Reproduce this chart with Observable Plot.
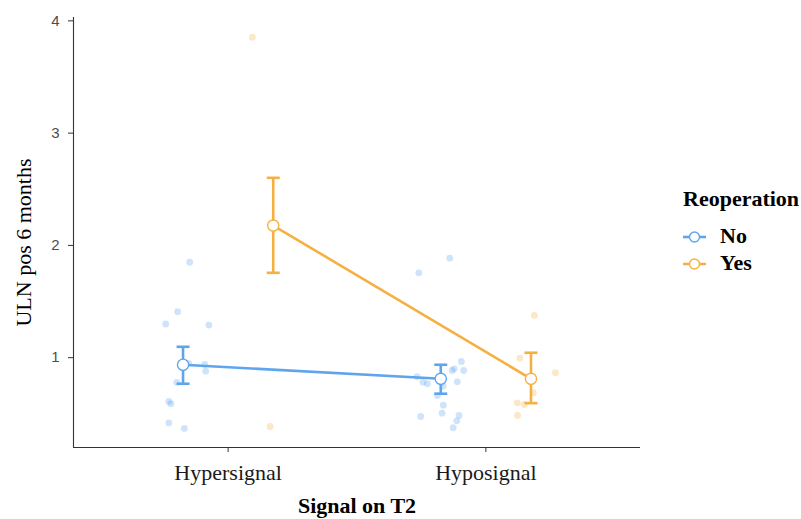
<!DOCTYPE html>
<html>
<head>
<meta charset="utf-8">
<script src="https://cdn.jsdelivr.net/npm/d3@7"></script>
<script src="https://cdn.jsdelivr.net/npm/@observablehq/plot@0.6"></script>
<style>
  body { margin: 0; background: #fff; }
  #wrap { position: relative; width: 801px; height: 519px; overflow: hidden; }
  #chart { position: absolute; left: 0; top: 0; }
  #chart svg g[aria-label="y-axis tick label"] { font-family: "Liberation Sans", Arial, sans-serif; font-size: 15px; fill: #4d4d4d; }
  #chart svg g[aria-label="x-axis tick label"] { font-family: "Liberation Serif", "Times New Roman", serif; font-size: 22px; fill: #1a1a1a; }
  #chart svg g[aria-label="x-axis tick"], #chart svg g[aria-label="y-axis tick"] { stroke: #333; }
  .leg { position: absolute; font-family: "Liberation Serif", "Times New Roman", serif; font-weight: bold; font-size: 22px; line-height: 22px; color: #000; white-space: nowrap; }
  #legkeys { position: absolute; left: 680px; top: 225px; }
</style>
</head>
<body>
<div id="wrap">
  <div id="chart"></div>
  <div class="leg" id="legTitle" style="left:683px; top:188px;">Reoperation</div>
  <div class="leg" id="legNo" style="left:720px; top:225px;">No</div>
  <div class="leg" id="legYes" style="left:720px; top:252px;">Yes</div>
  <svg id="legkeys" width="32" height="52"></svg>
</div>
<script>
// ---- data ----
const categories = ["Hypersignal", "Hyposignal"];
const groups = ["No", "Yes"];
const colors = ["#5fa5ee", "#f6b042"];

// individual observations (value) with read-off horizontal jitter (x units)
const hyperNoValues = [1.85, 1.41, 1.30, 1.29, 0.95, 0.94, 0.88, 0.78, 0.61, 0.59, 0.42, 0.37];
const hyperNoJitter = [0.026, -0.021, -0.067, 0.100, 0.022, 0.084, 0.088, -0.024, -0.055, -0.047, -0.055, 0.005];
const hypoNoValues = [1.886, 1.756, 0.966, 0.901, 0.886, 0.886, 0.830, 0.782, 0.768, 0.746, 0.785, 0.663, 0.577, 0.506, 0.476, 0.485, 0.438, 0.376];
const hypoNoJitter = [0.035, -0.085, 0.080, 0.052, 0.044, 0.089, -0.092, -0.069, -0.052, 0.009, 0.064, -0.013, 0.010, 0.005, -0.078, 0.071, 0.062, 0.048];
const hyperYesValues = [3.854, 0.387];
const hyperYesJitter = [-0.081, -0.012];
const hypoYesValues = [1.376, 0.996, 0.866, 0.688, 0.598, 0.583, 0.485];
const hypoYesJitter = [0.013, -0.043, 0.095, 0.009, -0.053, -0.026, -0.052];

// summary (mean and error bar bounds), per category
const meanNo = [0.937, 0.812];
const lowNo = [0.768, 0.679];
const highNo = [1.097, 0.937];
const meanYes = [2.177, 0.812];
const lowYes = [1.756, 0.595];
const highYes = [2.602, 1.044];

const yTicks = [1, 2, 3, 4];

// ---- build tables ----
const dodge = {No: -0.175, Yes: 0.175};
function obs(cat, group, values, jitter) {
  const ci = categories.indexOf(cat) + 1;
  return values.map((v, i) => ({cat, group, x: ci + dodge[group] + jitter[i], y: v}));
}
const points = [
  ...obs("Hypersignal", "No", hyperNoValues, hyperNoJitter),
  ...obs("Hyposignal", "No", hypoNoValues, hypoNoJitter),
  ...obs("Hypersignal", "Yes", hyperYesValues, hyperYesJitter),
  ...obs("Hyposignal", "Yes", hypoYesValues, hypoYesJitter)
];
const summary = [];
categories.forEach((cat, i) => {
  summary.push({cat, group: "No", x: i + 1 + dodge.No, y: meanNo[i], lo: lowNo[i], hi: highNo[i]});
});
categories.forEach((cat, i) => {
  summary.push({cat, group: "Yes", x: i + 1 + dodge.Yes, y: meanYes[i], lo: lowYes[i], hi: highYes[i]});
});

const capSymbol = {
  draw(context, size) {
    const r = Math.sqrt(size / Math.PI);
    context.moveTo(-r, 0);
    context.lineTo(r, 0);
  }
};

const serif = "Liberation Serif, Times New Roman, serif";

const chart = Plot.plot({
  width: 660,
  height: 519,
  marginLeft: 73,
  marginRight: 20,
  marginTop: 17,
  marginBottom: 72,
  style: {background: "transparent"},
  x: {domain: [0.4, 2.6]},
  y: {domain: [0.2, 4.03]},
  color: {domain: groups, range: colors},
  marks: [
    Plot.axisY({ticks: yTicks, tickFormat: d => String(d), tickSize: 5, tickPadding: 9, label: null, fontSize: 15, fontFamily: "Liberation Sans, Arial, sans-serif"}),
    Plot.axisX({ticks: [1, 2], tickFormat: d => categories[d - 1], tickSize: 5, tickPadding: 12, label: null, fontSize: 22, fontFamily: serif}),
    Plot.ruleX([0.4], {stroke: "#333", strokeWidth: 1.1}),
    Plot.ruleY([0.2], {stroke: "#333", strokeWidth: 1.1}),
    Plot.dot(points, {x: "x", y: "y", fill: "group", r: 3.4, fillOpacity: 0.3}),
    Plot.line(summary, {x: "x", y: "y", z: "group", stroke: "group", strokeWidth: 2.6}),
    Plot.ruleX(summary, {x: "x", y1: "lo", y2: "hi", stroke: "group", strokeWidth: 2.6}),
    Plot.dot(summary, {x: "x", y: "lo", symbol: capSymbol, r: 6.5, fill: "none", stroke: "group", strokeWidth: 2.6}),
    Plot.dot(summary, {x: "x", y: "hi", symbol: capSymbol, r: 6.5, fill: "none", stroke: "group", strokeWidth: 2.6}),
    Plot.dot(summary, {x: "x", y: "y", r: 5.6, fill: "white", stroke: "group", strokeWidth: 1.4}),
    Plot.text(["ULN pos 6 months"], {frameAnchor: "left", textAnchor: "middle", lineAnchor: "middle", rotate: -90, dx: -50, dy: 10, fontSize: 22, fontFamily: serif, fill: "#000"}),
    Plot.text(["Signal on T2"], {frameAnchor: "bottom", lineAnchor: "middle", dy: 58, fontSize: 22, fontWeight: "bold", fontFamily: serif, fill: "#000"})
  ]
});
document.getElementById("chart").appendChild(chart);

// legend keys
const keys = d3.select("#legkeys");
groups.forEach((g, i) => {
  const cy = 12 + i * 27;
  keys.append("line").attr("x1", 3).attr("x2", 26).attr("y1", cy).attr("y2", cy)
    .attr("stroke", colors[i]).attr("stroke-width", 2.6);
  keys.append("circle").attr("cx", 14.5).attr("cy", cy).attr("r", 5)
    .attr("fill", "white").attr("stroke", colors[i]).attr("stroke-width", 1.4);
});
</script>
</body>
</html>
